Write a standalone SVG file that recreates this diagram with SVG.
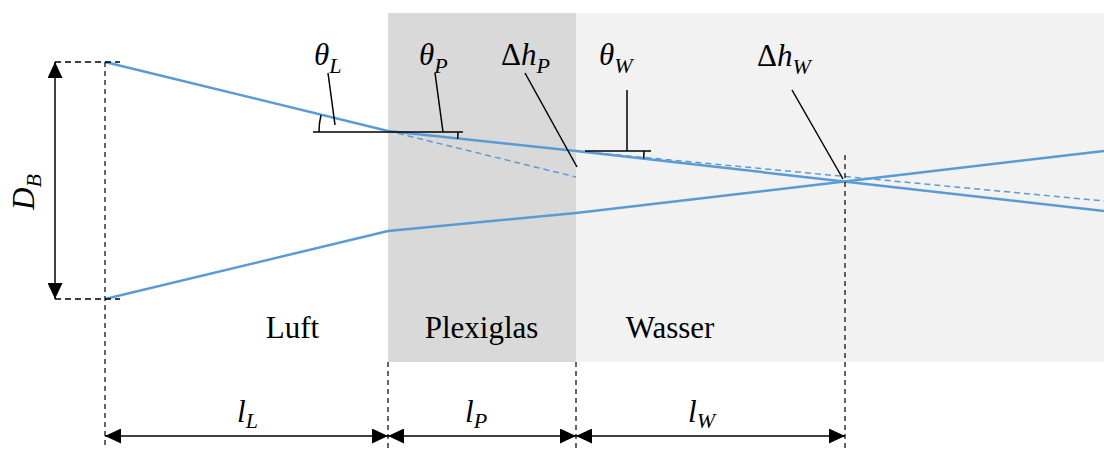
<svg xmlns="http://www.w3.org/2000/svg" width="1104" height="456" viewBox="0 0 1104 456">
<style>
.ray{fill:none;stroke:#5b9bd5;stroke-width:2.5}
.rayd{fill:none;stroke:#5b9bd5;stroke-width:1.5;stroke-dasharray:6,4}
.dim{fill:none;stroke:#000;stroke-width:1.5}
.dash{fill:none;stroke:#000;stroke-width:1.2;stroke-dasharray:5,4}
.dashb{fill:none;stroke:#000;stroke-width:1.6;stroke-dasharray:6,4}
.thin{fill:none;stroke:#000;stroke-width:1.5}
.math{font-family:"Liberation Serif",serif;font-style:italic;font-size:31px;fill:#000}
.sub{font-size:22px}
.up{font-style:normal}
.lbl{font-family:"Liberation Serif",serif;font-size:31px;fill:#000;text-anchor:middle}
</style>
<defs>
<marker id="ah" markerUnits="userSpaceOnUse" markerWidth="17" markerHeight="15" refX="16" refY="7.5" orient="auto-start-reverse">
<path d="M0,0 L16,7.5 L0,15 Z" fill="#000"/>
</marker>
</defs>
<rect x="0" y="0" width="1104" height="456" fill="#fff"/>
<g id="media">
<rect x="388" y="13" width="188" height="349" fill="#d9d9d9"/>
<rect x="576" y="13" width="528" height="349" fill="#f2f2f2"/>
</g>
<g id="connectors">
<path class="rayd" d="M388,131 L576,177"/>
<path class="rayd" d="M576,151 L1104,201"/>
<path class="ray" d="M105,62 L388,131 L576,151 L1104,211"/>
<path class="ray" d="M105,299 L388,231 L576,213 L1104,151"/>
<path class="dashb" d="M55,62 H120 M55,299 H120"/>
<path class="dash" d="M105,62 V448 M388,362 V448 M576,362 V448 M845,155 V448"/>
<path class="dim" d="M55,62 V299" marker-start="url(#ah)" marker-end="url(#ah)"/>
<path class="dim" d="M105,436 H388" marker-start="url(#ah)" marker-end="url(#ah)"/>
<path class="dim" d="M388,436 H576" marker-start="url(#ah)" marker-end="url(#ah)"/>
<path class="dim" d="M576,436 H845" marker-start="url(#ah)" marker-end="url(#ah)"/>
<path class="thin" d="M313,132 H463"/>
<path class="thin" d="M319,132 A69,69 0 0 1 321,115"/>
<path class="thin" d="M458,132 A70,70 0 0 1 457.6,139"/>
<path class="thin" d="M328,73 L335,125"/>
<path class="thin" d="M435,73 L443,132"/>
<path class="thin" d="M525,73 L577,167"/>
<path class="thin" d="M585,151 H651"/>
<path class="thin" d="M627,90 V151"/>
<path class="thin" d="M644,151 A68,68 0 0 1 643.6,158.5"/>
<path class="thin" d="M792,90 L843,179"/>
</g>
<g id="label-DB">
<text class="math" transform="translate(34,210) rotate(-90)">D<tspan class="sub" dy="7">B</tspan></text>
</g>
<g id="label-thetaL"><text class="math" x="314" y="65">θ<tspan class="sub" dy="8">L</tspan></text></g>
<g id="label-thetaP"><text class="math" x="419" y="65">θ<tspan class="sub" dy="8">P</tspan></text></g>
<g id="label-dhP"><text class="math" x="501" y="65"><tspan class="up">Δ</tspan>h<tspan class="sub" dy="8">P</tspan></text></g>
<g id="label-thetaW"><text class="math" x="599" y="65">θ<tspan class="sub" dy="8">W</tspan></text></g>
<g id="label-dhW"><text class="math" x="757" y="66"><tspan class="up">Δ</tspan>h<tspan class="sub" dy="8">W</tspan></text></g>
<g id="label-luft"><text class="lbl" x="292.5" y="338">Luft</text></g>
<g id="label-plexiglas"><text class="lbl" x="481.5" y="338">Plexiglas</text></g>
<g id="label-wasser"><text class="lbl" x="670" y="338">Wasser</text></g>
<g id="label-lL"><text class="math" x="237" y="422">l<tspan class="sub" dy="6">L</tspan></text></g>
<g id="label-lP"><text class="math" x="465" y="422">l<tspan class="sub" dy="6">P</tspan></text></g>
<g id="label-lW"><text class="math" x="688" y="422">l<tspan class="sub" dy="6">W</tspan></text></g>
</svg>
